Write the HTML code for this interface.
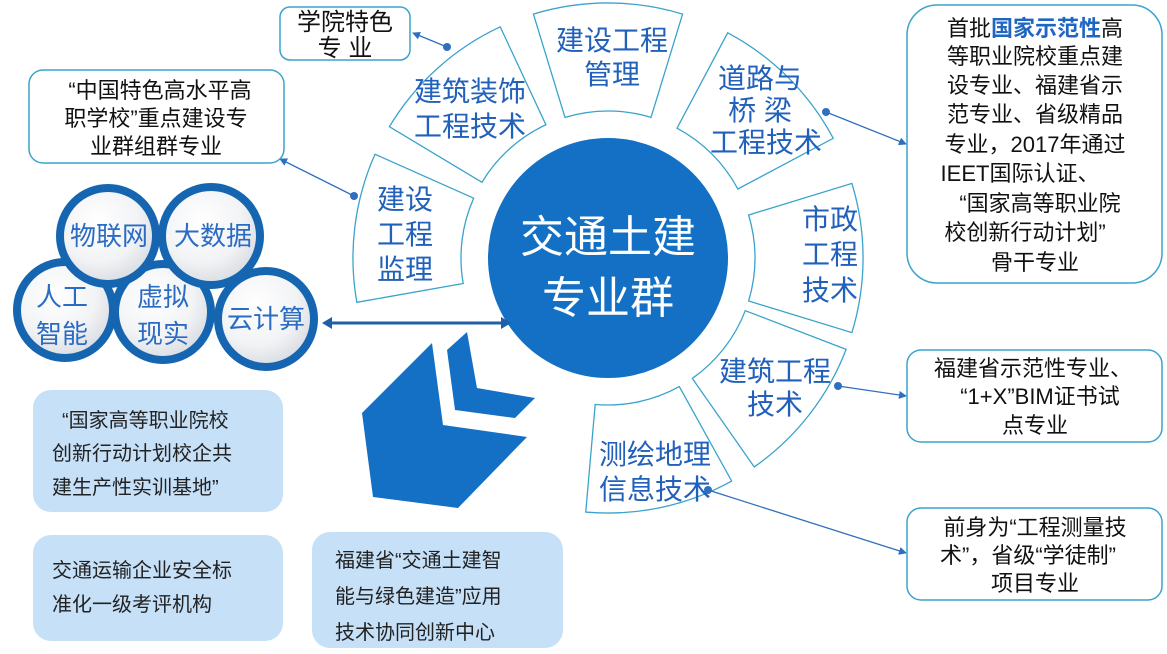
<!DOCTYPE html>
<html><head><meta charset="utf-8"><style>
html,body{margin:0;padding:0;background:#fff;}
svg{display:block;font-family:"Liberation Sans","Noto Sans CJK SC",sans-serif;}
</style></head><body>
<svg width="1167" height="654" viewBox="0 0 1167 654" xmlns="http://www.w3.org/2000/svg">
<defs>
<radialGradient id="bub" cx="40%" cy="35%" r="70%">
<stop offset="0" stop-color="#ffffff"/><stop offset="0.6" stop-color="#f2f3f5"/><stop offset="1" stop-color="#d4d8de"/>
</radialGradient>
<path id="sec" d="M748.6,215 L851.9,183.4 A255,255 0 0 1 851.9,332.6 L748.6,301 A147,147 0 0 0 748.6,215 Z"/>
<marker id="ar" markerWidth="8" markerHeight="8" refX="7" refY="4" orient="auto" markerUnits="userSpaceOnUse"><path d="M0,0 L8,4 L0,8 Z" fill="#2f6fc0"/></marker>
</defs>

<g fill="#fff" stroke="#3aa3cc" stroke-width="1.3">
<use href="#sec" transform="rotate(-173 608 258)"/>
<use href="#sec" transform="rotate(-132 608 258)"/>
<use href="#sec" transform="rotate(-90 608 258)"/>
<use href="#sec" transform="rotate(-45 608 258)"/>
<use href="#sec" transform="rotate(0 608 258)"/>
<use href="#sec" transform="rotate(38 608 258)"/>
<use href="#sec" transform="rotate(78 608 258)"/>
</g>

<circle cx="608" cy="258" r="120" fill="#1470c4"/>
<g fill="#fff" font-size="44" text-anchor="middle">
<text x="608" y="252">交通土建</text>
<text x="608" y="313">专业群</text>
</g>

<g fill="#2160bb" font-size="28" text-anchor="middle">
<text x="612" y="50">建设工程</text><text x="612" y="84">管理</text>
<text x="760" y="88">道路与</text><text x="760" y="120">桥  梁</text><text x="766" y="152">工程技术</text>
<text x="830" y="229">市政</text><text x="830" y="264">工程</text><text x="830" y="300">技术</text>
<text x="775" y="381">建筑工程</text><text x="775" y="414">技术</text>
<text x="655" y="464">测绘地理</text><text x="655" y="499">信息技术</text>
<text x="470" y="101">建筑装饰</text><text x="470" y="136">工程技术</text>
<text x="405" y="209">建设</text><text x="405" y="244">工程</text><text x="405" y="279">监理</text>
</g>

<g stroke="#2f6fc0" stroke-width="1.3" fill="none" marker-end="url(#ar)">
<line x1="447" y1="47" x2="413" y2="33"/>
<line x1="354" y1="196" x2="280" y2="159"/>
<line x1="826" y1="112" x2="906" y2="144"/>
<line x1="838" y1="386" x2="906" y2="396"/>
<line x1="708" y1="490" x2="906" y2="553"/>
</g>
<g fill="#2f6fc0">
<circle cx="447" cy="47" r="4"/><circle cx="354" cy="196" r="4"/><circle cx="826" cy="112" r="4"/><circle cx="838" cy="386" r="4"/><circle cx="708" cy="490" r="4"/>
</g>

<g fill="#fff" stroke="#3aa3cc" stroke-width="1.5">
<rect x="280" y="7" width="130" height="53" rx="10"/>
<rect x="29" y="70" width="255" height="93" rx="14"/>
<rect x="907" y="5" width="255" height="278" rx="30"/>
<rect x="907" y="350" width="255" height="92" rx="14"/>
<rect x="907" y="508" width="255" height="92" rx="14"/>
</g>
<g fill="#111" font-size="24" text-anchor="middle">
<text x="345" y="30">学院特色</text><text x="345" y="56">专  业</text>
</g>
<g fill="#111" font-size="22" text-anchor="middle">
<text x="160" y="98">“中国特色高水平高</text>
<text x="156" y="126">职学校”重点建设专</text>
<text x="156" y="154">业群组群专业</text>
<text x="1035" y="36">首批<tspan fill="#1f66c2" font-weight="bold">国家示范性</tspan>高</text>
<text x="1035" y="64">等职业院校重点建</text>
<text x="1035" y="93">设专业、福建省示</text>
<text x="1035" y="122">范专业、省级精品</text>
<text x="1035" y="152">专业，2017年通过</text>
<text x="1020" y="181">IEET国际认证、</text>
<text x="1040" y="211">“国家高等职业院</text>
<text x="1025" y="240">校创新行动计划”</text>
<text x="1035" y="270">骨干专业</text>
<text x="1033" y="376">福建省示范性专业、</text>
<text x="1040" y="404">“1+X”BIM证书试</text>
<text x="1035" y="433">点专业</text>
<text x="1035" y="535">前身为“工程测量技</text>
<text x="1028" y="563">术”，省级“学徒制”</text>
<text x="1035" y="591">项目专业</text>
</g>

<g fill="#c6e0f8">
<rect x="33" y="390" width="250" height="122" rx="18"/>
<rect x="33" y="535" width="250" height="106" rx="18"/>
<rect x="312" y="532" width="251" height="116" rx="18"/>
</g>
<g fill="#222" font-size="20">
<text x="62" y="427">“国家高等职业院校</text>
<text x="52" y="460">创新行动计划校企共</text>
<text x="52" y="494">建生产性实训基地”</text>
<text x="52" y="577">交通运输企业安全标</text>
<text x="52" y="611">准化一级考评机构</text>
<text x="335" y="567">福建省“交通土建智</text>
<text x="335" y="603">能与绿色建造”应用</text>
<text x="335" y="639">技术协同创新中心</text>
</g>

<g fill="#1470c4">
<polygon points="432,343 443,425 527,437 458,508 373,497 362,413"/>
<polygon points="467,332 477,388 535,398 515,418 455,410 447,350"/>
</g>

<g stroke="#1565b0" stroke-width="8" fill="url(#bub)">
<circle cx="65" cy="310" r="48"/>
<circle cx="163" cy="312" r="48"/>
<circle cx="266" cy="319" r="48"/>
<circle cx="108" cy="236" r="48"/>
<circle cx="211" cy="236" r="49"/>
</g>
<g fill="#2a6bc4" font-size="26" text-anchor="middle">
<text x="109" y="245">物联网</text>
<text x="213" y="245">大数据</text>
<text x="62" y="306">人工</text><text x="62" y="343">智能</text>
<text x="163" y="306">虚拟</text><text x="163" y="343">现实</text>
<text x="266" y="328">云计算</text>
</g>

<line x1="330" y1="323" x2="503" y2="323" stroke="#1e5fa8" stroke-width="3"/>
<polygon points="322,323 332,317 332,329" fill="#1e5fa8"/>
<polygon points="511,323 501,317 501,329" fill="#1e5fa8"/>
</svg>
</body></html>
